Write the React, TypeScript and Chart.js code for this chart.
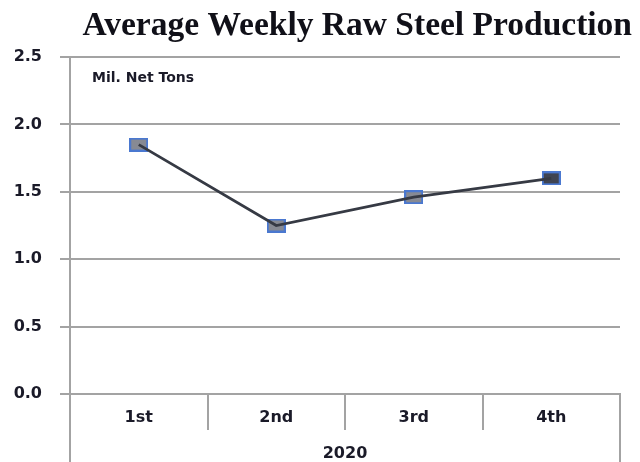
import React, { useEffect, useRef } from 'react';
import { Chart, registerables } from 'chart.js';

Chart.register(...registerables);

const categories = ['1st', '2nd', '3rd', '4th'];
const groupLabels = ['2020'];
const production = [1.85, 1.25, 1.46, 1.6];
const markerFills = ['#878a93', '#878a93', '#878a93', '#3f4452'];
const yTicks = [0, 0.5, 1.0, 1.5, 2.0, 2.5];
const titleText = 'Average Weekly Raw Steel Production';
const unitText = 'Mil. Net Tons';

const GRID = '#a3a3a3';
const TEXT = '#1a1a28';

function makeMarker(fill: string): HTMLCanvasElement {
  const c = document.createElement('canvas');
  c.width = 19;
  c.height = 14;
  const ctx = c.getContext('2d')!;
  ctx.fillStyle = '#4a78d0';
  ctx.fillRect(0, 0, 19, 14);
  ctx.fillStyle = fill;
  ctx.fillRect(2, 2, 15, 10);
  return c;
}

const unitLabel = {
  id: 'unitLabel',
  afterDraw(chart: any) {
    const { ctx, chartArea } = chart;
    ctx.save();
    ctx.font = 'bold 14px "DejaVu Sans"';
    ctx.fillStyle = TEXT;
    ctx.textAlign = 'left';
    ctx.textBaseline = 'middle';
    ctx.fillText(unitText, chartArea.left + 22, chartArea.top + 21.5);
    ctx.restore();
  },
};

export default function App() {
  const ref = useRef<HTMLCanvasElement>(null);

  useEffect(() => {
    if (!ref.current) return;
    Chart.defaults.font.family = '"DejaVu Sans", sans-serif';
    const markers = markerFills.map(makeMarker);
    const chart = new Chart(ref.current, {
      type: 'line',
      data: {
        labels: categories,
        datasets: [
          {
            label: 'line',
            data: production,
            borderColor: '#363a44',
            borderWidth: 2.8,
            pointRadius: 0,
            fill: false,
            tension: 0,
            order: 1,
            xAxisID: 'x',
            yAxisID: 'y',
          },
          {
            label: 'markers',
            data: production,
            showLine: false,
            pointStyle: markers as any,
            pointRadius: 10,
            order: 2,
            xAxisID: 'x',
            yAxisID: 'y',
          },
        ],
      },
      plugins: [unitLabel],
      options: {
        responsive: false,
        animation: false,
        devicePixelRatio: 1,
        layout: { padding: { left: 13, right: 8, top: 0, bottom: 0 } },
        plugins: {
          legend: { display: false },
          tooltip: { enabled: false },
          title: {
            display: true,
            text: titleText,
            align: 'end',
            color: '#101018',
            font: { family: '"Liberation Serif", serif', size: 33.5, weight: 'bold', lineHeight: 1 },
            padding: { top: 9.5, bottom: 14 },
          },
        },
        scales: {
          x: {
            type: 'category',
            position: 'bottom',
            weight: 0,
            offset: true,
            grid: {
              offset: true,
              drawOnChartArea: false,
              drawTicks: true,
              tickLength: 36,
              color: GRID,
              lineWidth: 2,
            },
            border: { display: true, color: GRID, width: 2 },
            ticks: {
              color: TEXT,
              font: { size: 16, weight: 'bold' },
              padding: -21.6,
              maxRotation: 0,
              autoSkip: false,
            },
            afterFit: (s: any) => {
              s.height = 33.6;
            },
          },
          x2: {
            type: 'category',
            position: 'bottom',
            weight: 1,
            labels: groupLabels,
            offset: true,
            grid: {
              offset: true,
              drawOnChartArea: false,
              drawTicks: true,
              tickLength: 40,
              color: GRID,
              lineWidth: 2,
            },
            border: { display: false },
            ticks: {
              color: TEXT,
              font: { size: 16, weight: 'bold' },
              padding: -23.5,
              maxRotation: 0,
              autoSkip: false,
            },
            afterFit: (s: any) => {
              s.height = 34.4;
            },
          },
          y: {
            type: 'linear',
            position: 'left',
            min: 0,
            max: 2.5,
            afterBuildTicks: (s: any) => {
              s.ticks = yTicks.map((v) => ({ value: v }));
            },
            grid: {
              color: GRID,
              lineWidth: 2,
              tickLength: 10,
            },
            border: { display: true, color: GRID, width: 2 },
            ticks: {
              color: TEXT,
              font: { size: 16, weight: 'bold' },
              padding: 18,
              callback: (v: any) => Number(v).toFixed(1),
            },
            afterFit: (s: any) => {
              s.width = 57;
            },
          },
          y2: {
            type: 'linear',
            position: 'right',
            display: true,
            grid: { display: false, drawTicks: false },
            border: { display: false },
            ticks: { display: false },
            afterFit: (s: any) => {
              s.width = 12;
            },
          },
        },
      },
    });
    return () => chart.destroy();
  }, []);

  return (
    <div style={{ position: 'fixed', left: 0, top: 0, width: 640, height: 462, background: '#fff' }}>
      <canvas ref={ref} width={640} height={462} style={{ width: 640, height: 462, display: 'block' }} />
    </div>
  );
}
